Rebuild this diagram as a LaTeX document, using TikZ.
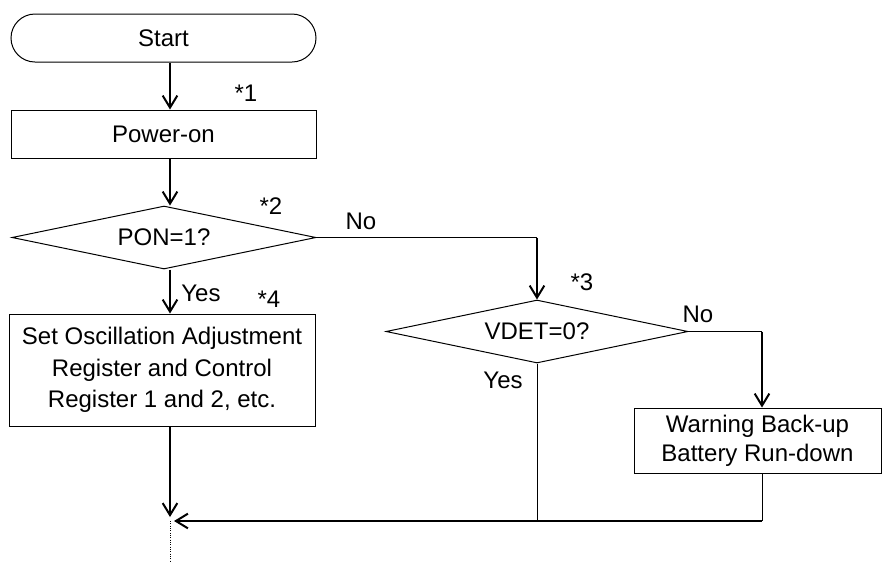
\documentclass[tikz,border=0pt]{standalone}
\usepackage{fontspec}
\setmainfont{Liberation Sans}
\usetikzlibrary{shapes.geometric,arrows.meta}

\begin{document}
\begin{tikzpicture}[x=0.75pt,y=0.75pt,yscale=-1,xscale=1,
  every node/.style={font=\fontsize{18}{23.5}\selectfont},
  terminal/.style={draw,line width=0.75pt,rounded corners=18pt,minimum width=228.75pt,minimum height=36pt,inner sep=0pt},
  procbox/.style={draw,line width=0.75pt,inner sep=0pt,align=center},
  decision/.style={draw,line width=0.75pt,diamond,aspect=4.8,inner sep=0pt},
  flow/.style={line width=1.5pt,-{Straight Barb[length=9pt,width=11pt]}},
  thinline/.style={line width=0.75pt},
  lbl/.style={inner sep=0pt}]
\useasboundingbox (0,0) rectangle (882,562);

% Shapes
\node[terminal] (start) at (163.5,38) {Start};
\node[procbox,minimum width=228.75pt,minimum height=36pt] (power) at (163.5,134) {Power-on};
\node[decision,minimum width=228pt,minimum height=47.25pt] (pon) at (164,237.5) {PON=1?};
\node[procbox,minimum width=229.5pt,minimum height=84pt] (setreg) at (162,370) {Set Oscillation Adjustment\\Register and Control\\Register 1 and 2, etc.};
\node[decision,minimum width=226.5pt,minimum height=47.25pt] (vdet) at (537,331.5) {VDET=0?};
\node[procbox,minimum width=185.25pt,minimum height=48.75pt,font=\fontsize{18}{21.75}\selectfont] (warn) at (757.5,440.5) {Warning Back-up\\Battery Run-down};

% Turning points
\coordinate (col) at (170,0);
\coordinate (colw) at (762,0);
\coordinate (join) at (170,521);
\coordinate (tail) at (170,562);

% Connectors
\draw[flow] (start.south -| col) -- (power.north -| col);
\draw[flow] (power.south -| col) -- (pon.north -| col);
\draw[flow] (pon.south -| col) -- (setreg.north -| col);
\draw[thinline] (pon.east) -- (pon.east -| vdet.north);
\draw[flow] (pon.east -| vdet.north) -- (vdet.north);
\draw[thinline] (vdet.east) -- (vdet.east -| colw);
\draw[flow] (vdet.east -| colw) -- (warn.north -| colw);
\draw[flow,shorten >=3pt] (setreg.south -| col) -- (join);
\draw[thinline] (vdet.south) -- (vdet.south |- join);
\draw[thinline] (warn.south -| colw) -- (colw |- join);
\draw[flow,shorten >=3pt] (colw |- join) -- (join);
\draw[thinline,densely dotted] (join) -- (tail);

% Labels
\node[lbl] (n1) at (246,93) {*1};
\node[lbl] (n2) at (271,206) {*2};
\node[lbl] (no1) at (361,221) {No};
\node[lbl] (n3) at (582,282) {*3};
\node[lbl] (no2) at (698,314) {No};
\node[lbl] (yes1) at (201,293) {Yes};
\node[lbl] (n4) at (269,299) {*4};
\node[lbl] (yes2) at (503,380) {Yes};

\end{tikzpicture}
\end{document}
